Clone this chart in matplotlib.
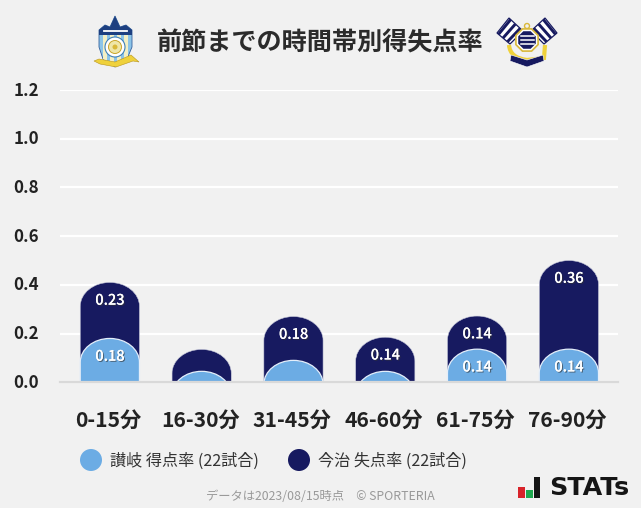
import matplotlib
matplotlib.use('Agg')
import matplotlib.pyplot as plt
import matplotlib.patheffects as pe
from matplotlib.patches import PathPatch, Circle, Polygon, Ellipse, Rectangle, RegularPolygon
from matplotlib.path import Path
from matplotlib.transforms import ScaledTranslation

plt.rcParams['font.family'] = ['Noto Sans CJK JP', 'DejaVu Sans']

categories = ['0-15分', '16-30分', '31-45分', '46-60分', '61-75分', '76-90分']
scored = [0.18, 0.045, 0.09, 0.045, 0.136, 0.136]
conceded = [0.23, 0.09, 0.18, 0.14, 0.136, 0.364]
scored_labels = ['0.18', '', '', '', '0.14', '0.14']
conceded_labels = ['0.23', '', '0.18', '0.14', '0.14', '0.36']
yticks = [0.0, 0.2, 0.4, 0.6, 0.8, 1.0, 1.2]
title = '前節までの時間帯別得失点率'
legend_a = '讃岐 得点率 (22試合)'
legend_b = '今治 失点率 (22試合)'
footer = 'データは2023/08/15時点　© SPORTERIA'

BG = '#f1f1f1'
NAVY = '#171a60'
BLUE = '#6cace4'
YEL = '#efd13b'
W, H = 641, 508

fig = plt.figure(figsize=(W / 100, H / 100), dpi=100, facecolor=BG)
ax = fig.add_axes([60 / W, 1 - 382.3 / H, 558 / W, 292.3 / H], facecolor=BG)
ax.set_xlim(-0.543, 5.535)
ax.set_ylim(0, 1.2)
ax.set_yticks(yticks)
ax.set_yticklabels([f'{t:.1f}' for t in yticks], fontsize=12.2, fontweight='bold', color='#222222')
ax.set_xticks(range(len(categories)))
ax.set_xticklabels(categories, fontsize=15.2, fontweight='bold', color='#222222')
ax.tick_params(axis='both', length=0)
ax.tick_params(axis='y', pad=33.7)
ax.tick_params(axis='x', pad=19.5)
for lbl in ax.get_yticklabels():
    lbl.set_ha('left')
    lbl.set_transform(lbl.get_transform() + ScaledTranslation(0, 1.5 / 100, fig.dpi_scale_trans))
for lbl in ax.get_xticklabels():
    lbl.set_transform(lbl.get_transform() + ScaledTranslation(-1.5 / 100, 0, fig.dpi_scale_trans))
for s in ax.spines.values():
    s.set_visible(False)
ax.spines['bottom'].set_visible(True)
ax.spines['bottom'].set_color('#d9d9d9')
ax.spines['bottom'].set_linewidth(1.6)
ax.spines['bottom'].set_zorder(6)
ax.grid(axis='y', color='white', linewidth=1.6)
ax.set_axisbelow(True)

BAR_W = 0.645
RY = 0.098
K = 0.5523


def rounded_bar(x, h, **kw):
    l, r = x - BAR_W / 2, x + BAR_W / 2
    rx = BAR_W / 2
    s = h - RY
    low = min(s, -0.05)
    verts = [(l, low), (l, s),
             (l, s + K * RY), (x - K * rx, h), (x, h),
             (x + K * rx, h), (r, s + K * RY), (r, s),
             (r, low), (l, low)]
    codes = [Path.MOVETO, Path.LINETO,
             Path.CURVE4, Path.CURVE4, Path.CURVE4,
             Path.CURVE4, Path.CURVE4, Path.CURVE4,
             Path.LINETO, Path.CLOSEPOLY]
    p = PathPatch(Path(verts, codes), **kw)
    ax.add_patch(p)
    return p


shadow = [pe.withSimplePatchShadow(offset=(0.8, -0.8), shadow_rgbFace='#333333', alpha=0.6), pe.Normal()]
for i, (a, b) in enumerate(zip(scored, conceded)):
    rounded_bar(i, a + b, facecolor=NAVY, edgecolor='#c9cbdc', linewidth=0.4, zorder=3)
    rounded_bar(i, a, facecolor=BLUE, edgecolor='#e4eefa', linewidth=0.9, zorder=4)
    if conceded_labels[i]:
        ax.text(i, a + b - 0.075, conceded_labels[i], ha='center', va='center', color='white',
                fontsize=10.5, fontweight='medium', zorder=5, path_effects=shadow)
    if scored_labels[i]:
        ax.text(i, a - 0.075, scored_labels[i], ha='center', va='center', color='white',
                fontsize=10.5, fontweight='medium', zorder=5, path_effects=shadow)

# overlay in pixel coordinates for title, legend, footer and logos
ov = fig.add_axes([0, 0, 1, 1], facecolor='none')
ov.set_xlim(0, W)
ov.set_ylim(H, 0)
ov.axis('off')

ov.text(320.5, 42.5, title, ha='center', va='center', fontsize=18.1, fontweight='bold', color='#2b2b2b')

ov.add_patch(Ellipse((91, 460), 22, 22, color=BLUE, lw=0))
ov.text(110, 461.5, legend_a, ha='left', va='center', fontsize=11.6, color='#333333')
ov.add_patch(Ellipse((299, 460), 22, 22, color=NAVY, lw=0))
ov.text(318.5, 461.5, legend_b, ha='left', va='center', fontsize=11.6, color='#333333')
ov.text(320.5, 497, footer, ha='center', va='center', fontsize=8.85, color='#999999')

# STATs mark
ov.add_patch(Rectangle((518, 487), 7, 11, color='#d8232a', lw=0))
ov.add_patch(Rectangle((526, 490), 7, 8, color='#1fa84f', lw=0))
ov.add_patch(Rectangle((534, 477), 6, 21, color='#151515', lw=0))
ov.text(549, 488, 'STATs', ha='left', va='center', fontsize=18.3, fontweight='bold', color='#151515',
        family=['DejaVu Sans'])

# left crest (simplified)
outline = [(99, 30), (105, 25), (110, 27), (115, 16), (120, 27), (126, 25), (132, 30),
           (132, 47), (127, 59), (115, 67), (103, 59), (99, 47)]
sh = Polygon(outline, closed=True, facecolor='#8cc4e8', edgecolor='#34609c', lw=0.6, zorder=2)
ov.add_patch(sh)
for xs in (103, 110, 117, 124):
    r = Rectangle((xs, 30), 3.5, 38, color='#f3efc4', lw=0, zorder=2.1)
    ov.add_patch(r)
    r.set_clip_path(sh)
r = Rectangle((95, 14), 40, 21, color='#1d3f80', lw=0, zorder=2.2)
ov.add_patch(r)
r.set_clip_path(sh)
ov.plot([104, 127], [31, 31], color='white', lw=1.3, zorder=2.3)
ov.add_patch(Circle((115, 47), 10, facecolor='#ffffff', edgecolor='#3d7fb8', lw=0.8, zorder=2.4))
ov.add_patch(Circle((115, 47), 6.5, facecolor='#efe6a8', edgecolor='#c9a52a', lw=0.7, zorder=2.5))
ov.add_patch(Circle((115, 47), 2.5, facecolor='#d9b83a', lw=0, zorder=2.6))
ov.add_patch(Polygon([(94, 61), (99, 59), (115, 62), (131, 55), (139, 62), (133, 61), (116, 67), (100, 64)],
                     closed=True, facecolor=YEL, edgecolor='#b8951d', lw=0.4, zorder=3))

# right crest (simplified)
for mir in (False, True):
    fx = (lambda v: 1054 - v) if mir else (lambda v: v)
    A, B, C, D = (497, 33), (509, 18), (523, 31), (510, 44)
    corners = [(fx(p[0]), p[1]) for p in (A, B, C, D)]
    fl = Polygon(corners, closed=True, facecolor='white', edgecolor=NAVY, lw=0.9, zorder=2)
    ov.add_patch(fl)
    for f in (0.12, 0.46, 0.80):
        x0 = A[0] + (D[0] - A[0]) * f
        y0 = A[1] + (D[1] - A[1]) * f
        x1 = B[0] + (C[0] - B[0]) * f
        y1 = B[1] + (C[1] - B[1]) * f
        ln, = ov.plot([fx(x0), fx(x1)], [y0, y1], color=NAVY, lw=2.1, solid_capstyle='butt', zorder=2.1)
        ln.set_clip_path(fl)
ov.add_patch(Circle((527, 26), 2.5, facecolor='none', edgecolor='#d9b83a', lw=1, zorder=2.2))
anchor = Path([(509, 45), (510, 58), (527, 60), (527, 60), (527, 60), (544, 58), (545, 45)],
              [Path.MOVETO, Path.CURVE3, Path.CURVE3, Path.LINETO, Path.CURVE3, Path.CURVE3, Path.LINETO])
ov.add_patch(PathPatch(anchor, facecolor='none', edgecolor=YEL, lw=3, zorder=2.3))
ov.add_patch(RegularPolygon((527, 40), 8, radius=12, orientation=0.39, facecolor='white',
                            edgecolor='#d9b83a', lw=1.2, zorder=2.5))
ov.add_patch(RegularPolygon((527, 40), 8, radius=9.5, orientation=0.39, facecolor=NAVY, lw=0, zorder=2.6))
for dy in (-4, 0, 4):
    ov.plot([520.5, 533.5], [40 + dy, 40 + dy], color='white', lw=1.1, zorder=2.7)
ov.add_patch(Polygon([(511, 55), (527, 60), (543, 55), (544, 61), (527, 67), (510, 61)], closed=True,
                     facecolor=NAVY, edgecolor='white', lw=0.4, zorder=3))

fig.savefig('out.png', dpi=100, facecolor=BG)
